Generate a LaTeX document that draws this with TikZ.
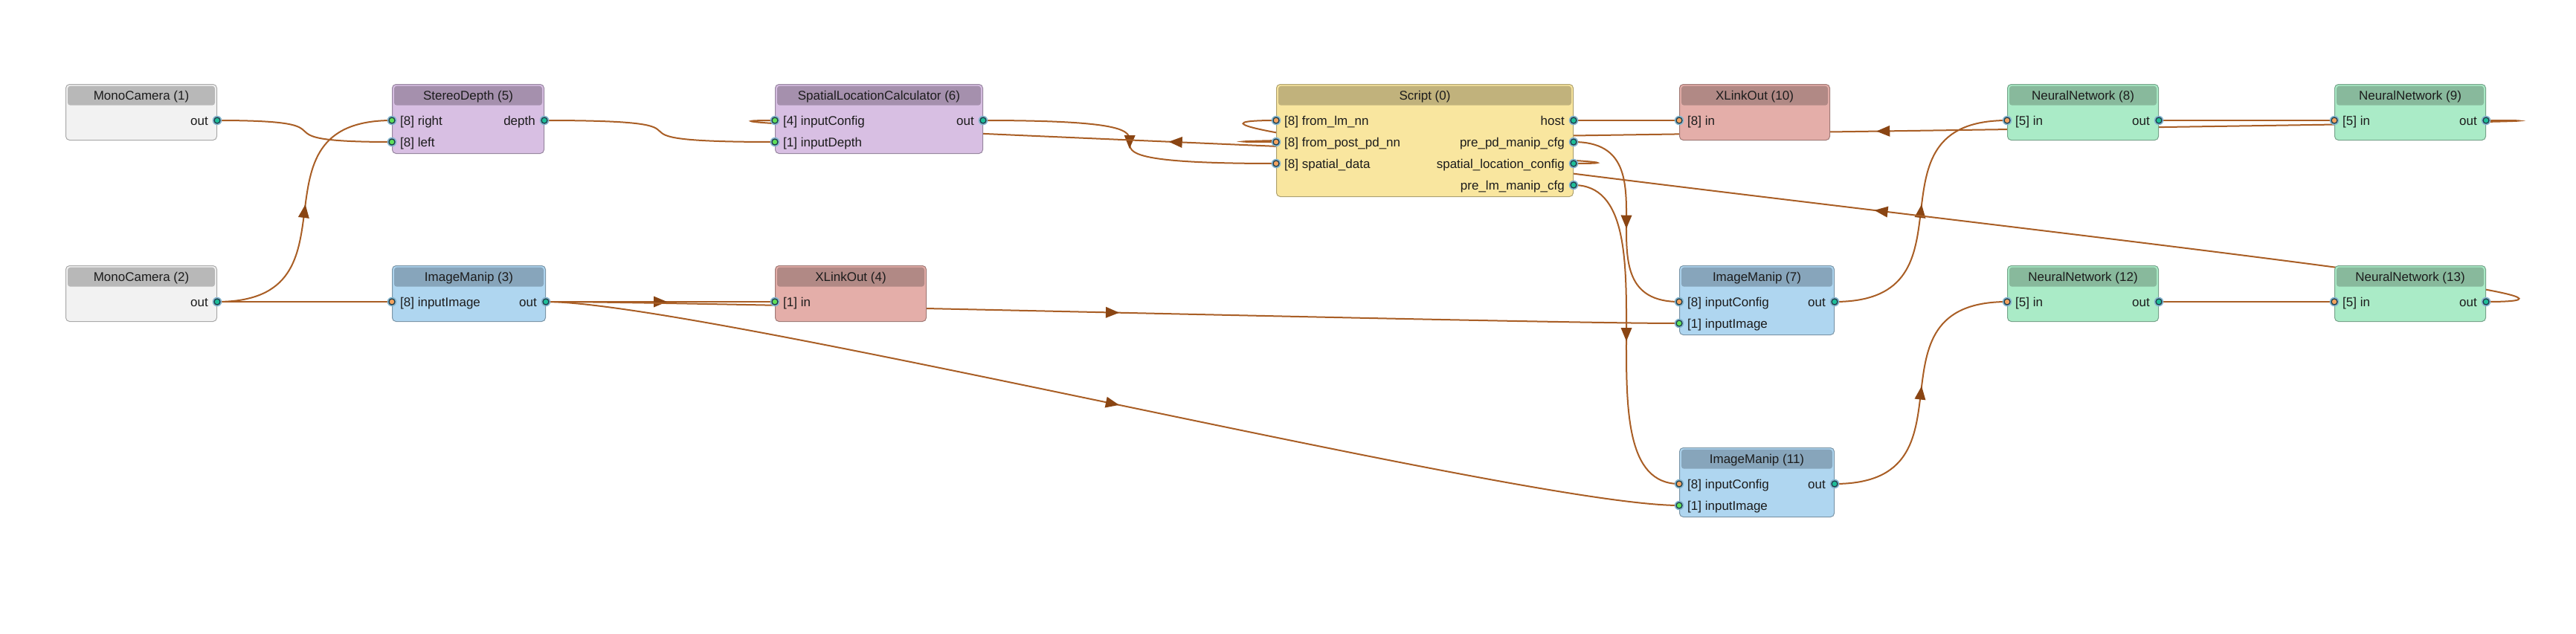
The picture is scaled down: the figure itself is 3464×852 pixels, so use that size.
\documentclass[tikz,border=0pt]{standalone}
\usepackage{fontspec}
\setmainfont{Liberation Sans}
\usetikzlibrary{decorations.markings}

\definecolor{monobody}{HTML}{F2F2F2}
\definecolor{monohead}{HTML}{B8B8B8}
\definecolor{depthbody}{HTML}{D8BFE3}
\definecolor{depthhead}{HTML}{A590AD}
\definecolor{manipbody}{HTML}{AFD6F0}
\definecolor{maniphead}{HTML}{87A5BB}
\definecolor{xlinkbody}{HTML}{E4AEA9}
\definecolor{xlinkhead}{HTML}{B18985}
\definecolor{scriptbody}{HTML}{F9E69F}
\definecolor{scripthead}{HTML}{C1B27C}
\definecolor{nnbody}{HTML}{AAEBC7}
\definecolor{nnhead}{HTML}{88B99C}
\definecolor{linkcol}{HTML}{A95E25}
\definecolor{tipcol}{HTML}{8A4513}
\definecolor{portin}{HTML}{5FE05A}
\definecolor{portcfg}{HTML}{F3A35F}
\definecolor{portout}{HTML}{1EBE98}
\definecolor{portrim}{HTML}{1E3D4C}
\definecolor{portring}{HTML}{86B6CE}
\definecolor{textcol}{HTML}{1C1C1C}

\pgfdeclarelayer{background}
\pgfsetlayers{background,main}

\newcommand{\nodefont}{\fontsize{17}{20}\selectfont}

\tikzset{
  blockbody/.style={rounded corners=5pt, line width=1pt, inner sep=0pt},
  blockhead/.style={rounded corners=3.5pt, minimum height=26pt, inner sep=0pt,
    text height=12.2pt, text depth=0pt, font=\nodefont, text=textcol},
  portlabel/.style={inner sep=0pt, text height=12.2pt, text depth=0pt,
    font=\nodefont, text=textcol},
  link/.style={draw=linkcol, line width=2pt},
  linkarrow/.style={link, postaction={decorate},
    decoration={markings, mark=at position 0.5 with
      {\fill[tipcol] (9pt,0pt) -- (-9pt,7.5pt) -- (-9pt,-7.5pt) -- cycle;}}}
}

% block: name, left, top, width, height, body, head, title
\newcommand{\pipeblock}[8]{%
  \node[blockbody, draw=#6!70!black, fill=#6, minimum width=#4pt,
    minimum height=#5pt, anchor=north west] (#1) at (#2,#3) {};
  \node[blockhead, fill=#7, minimum width=#4pt-5pt, anchor=north]
    (#1-h) at ([yshift=-2.5pt]#1.north) {#8};
}
\newcommand{\portdot}[2]{%
  \fill[portring] (#1) circle (6.3pt);
  \filldraw[fill=#2, draw=portrim, line width=1.3pt] (#1) circle (4pt);
}
% input port: node, port, row offset, colour, label
\newcommand{\inport}[5]{%
  \coordinate (#1-#2) at ([yshift=-#3pt]#1.north west);
  \node[portlabel, anchor=west, xshift=11pt] at (#1-#2) {#5};
  \portdot{#1-#2}{#4}
}
% output port: node, port, row offset, label
\newcommand{\outport}[4]{%
  \coordinate (#1-#2) at ([yshift=-#3pt]#1.north east);
  \node[portlabel, anchor=east, xshift=-12pt] at (#1-#2) {#4};
  \portdot{#1-#2}{portout}
}
\newcommand{\pipe}[4][link]{%
  \draw[#1] (#2) .. controls +(#4,0) and +(-#4,0) .. (#3);
}

\begin{document}
\begin{tikzpicture}[x=1pt, y=-1pt]
\useasboundingbox (0,0) rectangle (3464,852);

% blocks
\pipeblock{m1}{88}{113}{203}{75}{monobody}{monohead}{MonoCamera (1)}
\pipeblock{m2}{88}{357}{203}{75}{monobody}{monohead}{MonoCamera (2)}
\pipeblock{sd5}{527}{113}{204}{93}{depthbody}{depthhead}{StereoDepth (5)}
\pipeblock{im3}{527}{357}{206}{75}{manipbody}{maniphead}{ImageManip (3)}
\pipeblock{slc6}{1042}{113}{279}{93}{depthbody}{depthhead}{SpatialLocationCalculator (6)}
\pipeblock{xo4}{1042}{357}{203}{75}{xlinkbody}{xlinkhead}{XLinkOut (4)}
\pipeblock{s0}{1716}{113}{399}{151}{scriptbody}{scripthead}{Script (0)}
\pipeblock{xo10}{2258}{113}{202}{75}{xlinkbody}{xlinkhead}{XLinkOut (10)}
\pipeblock{im7}{2258}{357}{208}{93}{manipbody}{maniphead}{ImageManip (7)}
\pipeblock{im11}{2258}{602}{208}{93}{manipbody}{maniphead}{ImageManip (11)}
\pipeblock{nn8}{2699}{113}{203}{75}{nnbody}{nnhead}{NeuralNetwork (8)}
\pipeblock{nn9}{3139}{113}{203}{75}{nnbody}{nnhead}{NeuralNetwork (9)}
\pipeblock{nn12}{2699}{357}{203}{75}{nnbody}{nnhead}{NeuralNetwork (12)}
\pipeblock{nn13}{3139}{357}{203}{75}{nnbody}{nnhead}{NeuralNetwork (13)}

% ports
\outport{m1}{out}{49}{out}
\outport{m2}{out}{49}{out}
\inport{sd5}{right}{49}{portin}{[8] right}
\inport{sd5}{left}{78}{portin}{[8] left}
\outport{sd5}{depth}{49}{depth}
\inport{im3}{img}{49}{portcfg}{[8] inputImage}
\outport{im3}{out}{49}{out}
\inport{slc6}{cfg}{49}{portin}{[4] inputConfig}
\inport{slc6}{depth}{78}{portin}{[1] inputDepth}
\outport{slc6}{out}{49}{out}
\inport{xo4}{in}{49}{portin}{[1] in}
\inport{s0}{lm}{49}{portcfg}{[8] from\_lm\_nn}
\inport{s0}{pd}{78}{portcfg}{[8] from\_post\_pd\_nn}
\inport{s0}{spatial}{107}{portcfg}{[8] spatial\_data}
\outport{s0}{host}{49}{host}
\outport{s0}{pdcfg}{78}{pre\_pd\_manip\_cfg}
\outport{s0}{slcfg}{107}{spatial\_location\_config}
\outport{s0}{lmcfg}{136}{pre\_lm\_manip\_cfg}
\inport{xo10}{in}{49}{portcfg}{[8] in}
\inport{im7}{cfg}{49}{portcfg}{[8] inputConfig}
\inport{im7}{img}{78}{portin}{[1] inputImage}
\outport{im7}{out}{49}{out}
\inport{im11}{cfg}{49}{portcfg}{[8] inputConfig}
\inport{im11}{img}{78}{portin}{[1] inputImage}
\outport{im11}{out}{49}{out}
\inport{nn8}{in}{49}{portcfg}{[5] in}
\outport{nn8}{out}{49}{out}
\inport{nn9}{in}{49}{portcfg}{[5] in}
\outport{nn9}{out}{49}{out}
\inport{nn12}{in}{49}{portcfg}{[5] in}
\outport{nn12}{out}{49}{out}
\inport{nn13}{in}{49}{portcfg}{[5] in}
\outport{nn13}{out}{49}{out}

% links, behind the blocks
\begin{pgfonlayer}{background}
\fill[white] (0,0) rectangle (3464,852);
\pipe{m1-out}{sd5-left}{204}
\pipe[linkarrow]{m2-out}{sd5-right}{204}
\pipe{m2-out}{im3-img}{206}
\pipe{sd5-depth}{slc6-depth}{279}
\pipe[linkarrow]{im3-out}{xo4-in}{203}
\pipe[linkarrow]{im3-out}{im7-img}{208}
\pipe[linkarrow]{im3-out}{im11-img}{208}
\pipe[linkarrow]{slc6-out}{s0-spatial}{395}
\pipe[linkarrow]{s0-slcfg}{slc6-cfg}{279}
\pipe{s0-host}{xo10-in}{143}
\pipe[linkarrow]{s0-pdcfg}{im7-cfg}{143}
\pipe[linkarrow]{s0-lmcfg}{im11-cfg}{143}
\pipe[linkarrow]{im7-out}{nn8-in}{203}
\pipe[linkarrow]{im11-out}{nn12-in}{203}
\pipe{nn8-out}{nn9-in}{203}
\pipe{nn12-out}{nn13-in}{203}
\pipe[linkarrow]{nn9-out}{s0-pd}{399}
\pipe[linkarrow]{nn13-out}{s0-lm}{399}
\end{pgfonlayer}
\end{tikzpicture}
\end{document}
